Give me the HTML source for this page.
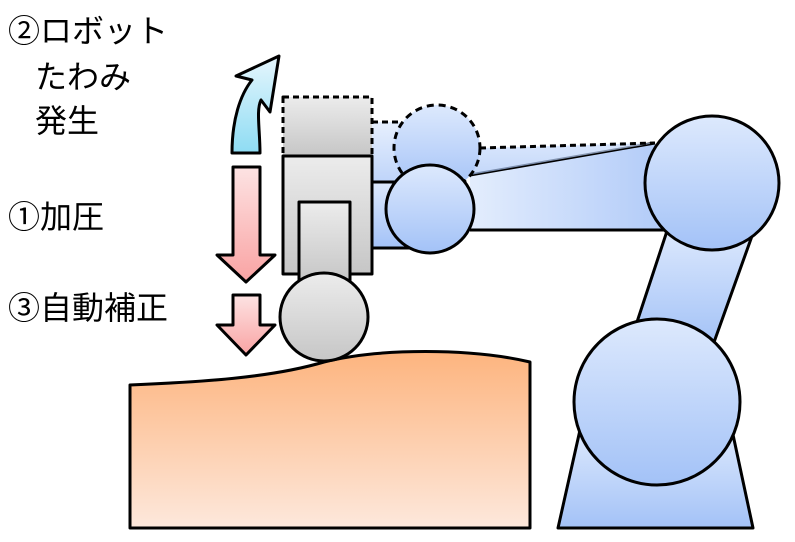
<!DOCTYPE html>
<html><head><meta charset="utf-8"><style>
html,body{margin:0;padding:0;background:#fff;}
svg{display:block;}
text{font-family:"Liberation Sans","Noto Sans CJK JP",sans-serif;font-size:32px;fill:#000;}
</style></head><body>
<svg width="795" height="542" viewBox="0 0 795 542" xmlns="http://www.w3.org/2000/svg">
<defs>
<linearGradient id="bl" x1="0" y1="0" x2="0" y2="1"><stop offset="0" stop-color="#dde9fd"/><stop offset="1" stop-color="#a3c2f7"/></linearGradient>
<linearGradient id="blh" x1="0" y1="0" x2="1" y2="0"><stop offset="0" stop-color="#e3edfd"/><stop offset="1" stop-color="#b0caf8"/></linearGradient>
<linearGradient id="gr" x1="0" y1="0" x2="0" y2="1"><stop offset="0" stop-color="#ececec"/><stop offset="1" stop-color="#c6c6c6"/></linearGradient>
<linearGradient id="or" x1="0" y1="0" x2="0" y2="1"><stop offset="0" stop-color="#fdb47e"/><stop offset="1" stop-color="#fde8dc"/></linearGradient>
<linearGradient id="rd" x1="0" y1="0" x2="0" y2="1"><stop offset="0" stop-color="#fde3e3"/><stop offset="1" stop-color="#f9a3a3"/></linearGradient>
<linearGradient id="cy" x1="0" y1="0" x2="0" y2="1"><stop offset="0" stop-color="#e6f6fd"/><stop offset="1" stop-color="#8edcf3"/></linearGradient>
</defs>
<g stroke="#000" stroke-width="3" stroke-linejoin="round">
<!-- base -->
<polygon points="558,528 753,528 732,430 580,430" fill="url(#bl)"/>
<!-- lower arm link -->
<polygon points="668,228 752,236 713,345 636,325" fill="url(#bl)"/>
<circle cx="657" cy="402" r="83" fill="url(#bl)"/>
<!-- main arm -->
<polygon points="470,175 655,143 670,230 470,230" fill="url(#blh)" stroke="none"/>
<line x1="470" y1="175" x2="655" y2="143"/>
<line x1="470" y1="230" x2="670" y2="230"/>
<!-- dashed upper arm -->
<polygon points="372,122 400,122 430,150 480,148 655,143 470,175 372,182" fill="url(#bl)" stroke="none" opacity="0.7"/>
<polyline points="372,122 400,122" fill="none" stroke-dasharray="6,4"/>
<polyline points="480,148 655,143" fill="none" stroke-dasharray="6,4"/>
<circle cx="437" cy="148" r="43" fill="url(#bl)" stroke-dasharray="7,5"/>
<circle cx="712" cy="183" r="67" fill="url(#bl)"/>
<!-- wrist -->
<rect x="372" y="182" width="50" height="66" fill="url(#bl)"/>
<circle cx="430" cy="209" r="44" fill="url(#bl)"/>
<!-- workpiece -->
<path d="M130,385 C200,382 270,378 324,362 C380,348 470,348 530,362 L530,528 L130,528 Z" fill="url(#or)"/>
<!-- gripper -->
<rect x="283" y="97" width="89" height="59" fill="url(#gr)" stroke-dasharray="6,4"/>
<rect x="283" y="156" width="89" height="118" fill="url(#gr)"/>
<rect x="299" y="202" width="51" height="80" fill="url(#gr)"/>
<circle cx="324" cy="317" r="44" fill="url(#gr)"/>
<!-- arrows -->
<path d="M232,153 C232,120 240,95 252,80 L236,76 L279,56 L270,112 L261,100 C256,110 260,130 260,153 Z" fill="url(#cy)"/>
<polygon points="233,167 260,167 260,255 275,255 246,282 217,255 233,255" fill="url(#rd)"/>
<polygon points="233,295 260,295 260,325 275,325 246,355 217,325 233,325" fill="url(#rd)"/>
</g>
<text x="8" y="42">②ロボット</text>
<text x="35" y="88">たわみ</text>
<text x="35" y="132">発生</text>
<text x="8" y="228">①加圧</text>
<text x="8" y="319">③自動補正</text>
</svg>
</body></html>
